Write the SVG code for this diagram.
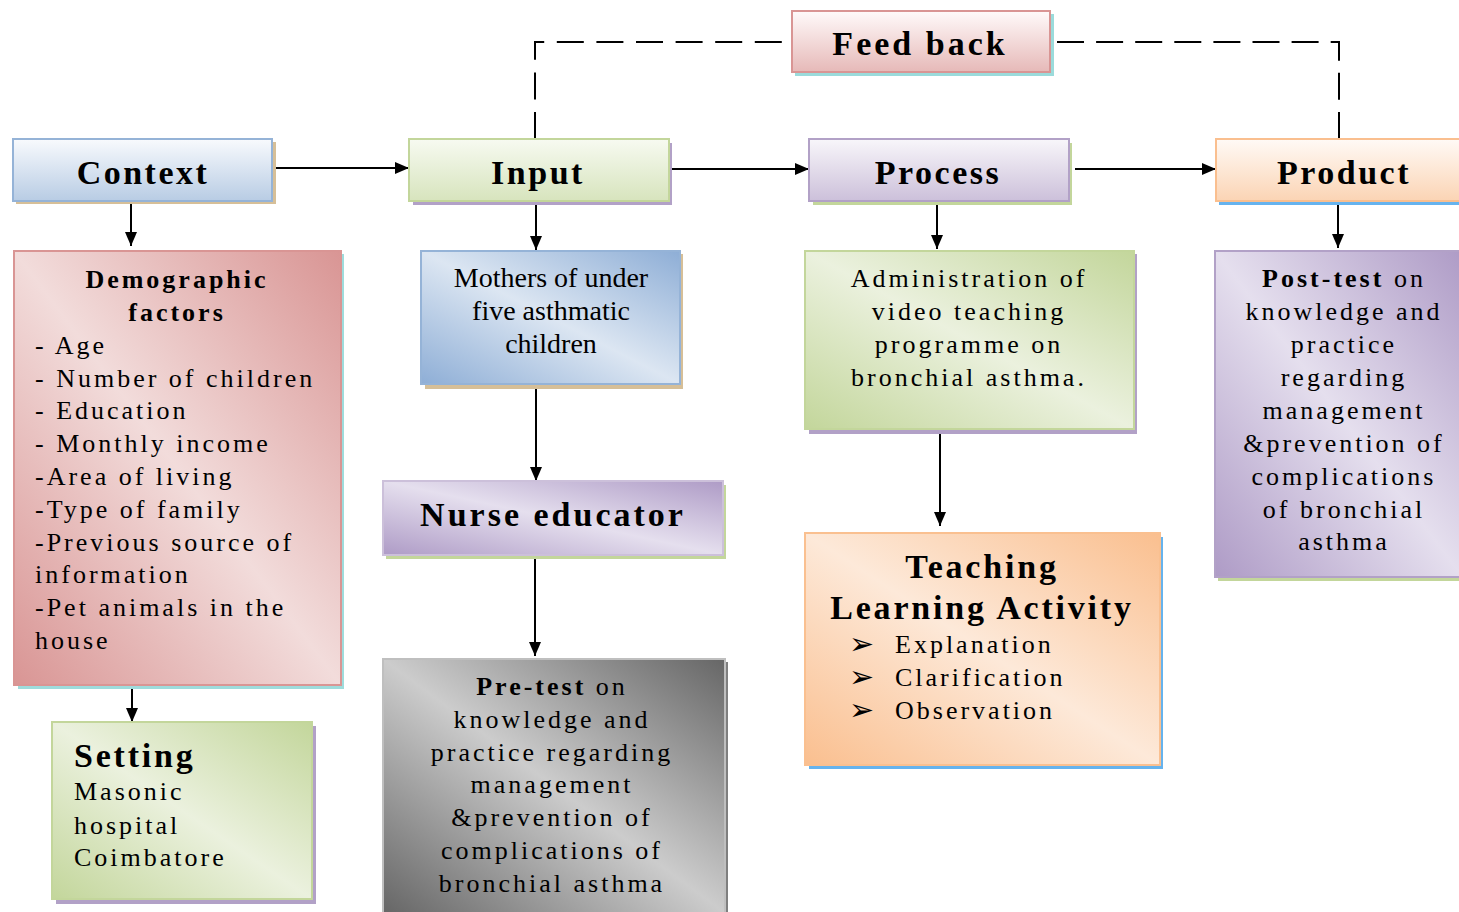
<svg xmlns="http://www.w3.org/2000/svg" width="1459" height="912" viewBox="0 0 1459 912">
  <defs>
    <!-- header bars: light top fading to tint -->
    <linearGradient id="gFeed" x1="0" y1="0" x2="0" y2="1"><stop offset="0" stop-color="#fffafa"/><stop offset="1" stop-color="#e6b9b8"/></linearGradient>
    <linearGradient id="gCtx" x1="0" y1="0" x2="0" y2="1"><stop offset="0" stop-color="#f8fafd"/><stop offset="1" stop-color="#b8cce4"/></linearGradient>
    <linearGradient id="gIn" x1="0" y1="0" x2="0" y2="1"><stop offset="0" stop-color="#f7faf1"/><stop offset="1" stop-color="#d7e4bd"/></linearGradient>
    <linearGradient id="gProc" x1="0" y1="0" x2="0" y2="1"><stop offset="0" stop-color="#f8f6fa"/><stop offset="1" stop-color="#ccc0da"/></linearGradient>
    <linearGradient id="gProd" x1="0" y1="0" x2="0" y2="1"><stop offset="0" stop-color="#fffaf6"/><stop offset="1" stop-color="#fbd4b4"/></linearGradient>
    <!-- content boxes: dark corners top-right / bottom-left, light diagonal -->
    <linearGradient id="gPink" x1="1" y1="0" x2="0" y2="1"><stop offset="0" stop-color="#d99594"/><stop offset="0.5" stop-color="#f2dcdb"/><stop offset="1" stop-color="#d99594"/></linearGradient>
    <linearGradient id="gBlue" x1="1" y1="0" x2="0" y2="1"><stop offset="0" stop-color="#8eaed6"/><stop offset="0.5" stop-color="#dce6f2"/><stop offset="1" stop-color="#8eaed6"/></linearGradient>
    <linearGradient id="gPurple" x1="1" y1="0" x2="0" y2="1"><stop offset="0" stop-color="#ae9bc6"/><stop offset="0.5" stop-color="#e5dfee"/><stop offset="1" stop-color="#ae9bc6"/></linearGradient>
    <linearGradient id="gGray" x1="1" y1="0" x2="0" y2="1"><stop offset="0" stop-color="#666666"/><stop offset="0.5" stop-color="#cccccc"/><stop offset="1" stop-color="#666666"/></linearGradient>
    <linearGradient id="gGreen" x1="1" y1="0" x2="0" y2="1"><stop offset="0" stop-color="#c3d69b"/><stop offset="0.5" stop-color="#ebf1de"/><stop offset="1" stop-color="#c3d69b"/></linearGradient>
    <linearGradient id="gOrange" x1="1" y1="0" x2="0" y2="1"><stop offset="0" stop-color="#fabf8f"/><stop offset="0.5" stop-color="#fde9d9"/><stop offset="1" stop-color="#fabf8f"/></linearGradient>
    <marker id="arrow" markerWidth="14" markerHeight="12" refX="14" refY="6" orient="auto" markerUnits="userSpaceOnUse">
      <path d="M0,0 L14,6 L0,12 Z" fill="#000"/>
    </marker>
  </defs>
  <style>
    text { font-family: "Liberation Serif", "Times New Roman", serif; fill: #000; }
    .hd { font-size: 34px; font-weight: bold; letter-spacing: 2.5px; text-anchor: middle; }
    .bd { font-size: 26px; letter-spacing: 3px; }
    .bb { font-size: 26px; letter-spacing: 3px; font-weight: bold; }
    .c { text-anchor: middle; }
    .bullet { font-family: "DejaVu Sans", sans-serif; font-size: 30px; }
    .box { stroke-width: 2; }
    .line { stroke: #000; stroke-width: 2; fill: none; }
    .dash { stroke: #000; stroke-width: 2; fill: none; }
  </style>

  <!-- connectors -->
  <g id="connectors">
    <path class="dash" d="M535,139 V42 H782" stroke-dasharray="27 12.6"/>
    <path class="dash" d="M1057,42 H1339 V139" stroke-dasharray="27 12.1"/>
    <line class="line" x1="270" y1="168" x2="409" y2="168" marker-end="url(#arrow)"/>
    <line class="line" x1="669" y1="169" x2="809" y2="169" marker-end="url(#arrow)"/>
    <line class="line" x1="1075" y1="169" x2="1216" y2="169" marker-end="url(#arrow)"/>
    <line class="line" x1="131" y1="201" x2="131" y2="246" marker-end="url(#arrow)"/>
    <line class="line" x1="536" y1="205" x2="536" y2="250" marker-end="url(#arrow)"/>
    <line class="line" x1="937" y1="205" x2="937" y2="249" marker-end="url(#arrow)"/>
    <line class="line" x1="1338" y1="202" x2="1338" y2="248" marker-end="url(#arrow)"/>
    <line class="line" x1="536" y1="385" x2="536" y2="481" marker-end="url(#arrow)"/>
    <line class="line" x1="535" y1="557" x2="535" y2="656" marker-end="url(#arrow)"/>
    <line class="line" x1="940" y1="427" x2="940" y2="526" marker-end="url(#arrow)"/>
    <line class="line" x1="132" y1="685" x2="132" y2="722" marker-end="url(#arrow)"/>
  </g>

  <g id="feedback">
    <rect x="795" y="14" width="259" height="62" fill="#9bdbdb"/>
    <rect class="box" x="792" y="11" width="258" height="61" fill="url(#gFeed)" stroke="#d99594"/>
    <text class="hd" x="920" y="55" style="letter-spacing:3px">Feed back</text>
  </g>

  <g id="context">
    <rect x="16" y="142" width="260" height="62" fill="#d6bf98"/>
    <rect class="box" x="13" y="139" width="259" height="62" fill="url(#gCtx)" stroke="#95b3d7"/>
    <text class="hd" x="143" y="184">Context</text>
  </g>

  <g id="input">
    <rect x="413" y="143" width="259" height="62" fill="#b2a1c7"/>
    <rect class="box" x="409" y="139" width="260" height="62" fill="url(#gIn)" stroke="#c3d69b"/>
    <text class="hd" x="538" y="184">Input</text>
  </g>

  <g id="process">
    <rect x="813" y="143" width="259" height="62" fill="#c3d69b"/>
    <rect class="box" x="809" y="139" width="260" height="62" fill="url(#gProc)" stroke="#b2a1c7"/>
    <text class="hd" x="938" y="184">Process</text>
  </g>

  <g id="product">
    <rect x="1219" y="143" width="245" height="62" fill="#66b3ee"/>
    <rect class="box" x="1216" y="139" width="248" height="62" fill="url(#gProd)" stroke="#fabf8f"/>
    <text class="hd" x="1344" y="184">Product</text>
  </g>

  <g id="demographic">
    <rect x="18" y="254" width="326" height="435" fill="#9edcdc"/>
    <rect class="box" x="14" y="251" width="327" height="434" fill="url(#gPink)" stroke="#d99594"/>
    <text class="bb c" x="177" y="288">Demographic</text>
    <text class="bb c" x="177" y="321">factors</text>
    <text class="bd" x="35" y="354">- Age</text>
    <text class="bd" x="35" y="387">- Number of children</text>
    <text class="bd" x="35" y="419">- Education</text>
    <text class="bd" x="35" y="452">- Monthly income</text>
    <text class="bd" x="35" y="485">-Area of living</text>
    <text class="bd" x="35" y="518">-Type of family</text>
    <text class="bd" x="35" y="551">-Previous source of</text>
    <text class="bd" x="35" y="583">information</text>
    <text class="bd" x="35" y="616">-Pet animals in the</text>
    <text class="bd" x="35" y="649">house</text>
  </g>

  <g id="setting">
    <rect x="56" y="726" width="260" height="178" fill="#b2a1c7"/>
    <rect class="box" x="52" y="722" width="260" height="177" fill="url(#gGreen)" stroke="#c3d69b"/>
    <text x="74" y="767" style="font-size:34px;font-weight:bold;letter-spacing:2.8px">Setting</text>
    <text class="bd" x="74" y="800">Masonic</text>
    <text class="bd" x="74" y="834">hospital</text>
    <text class="bd" x="74" y="866">Coimbatore</text>
  </g>

  <g id="mothers">
    <rect x="425" y="254" width="258" height="135" fill="#d6bf98"/>
    <rect class="box" x="421" y="251" width="259" height="133" fill="url(#gBlue)" stroke="#95b3d7"/>
    <text class="c" x="551" y="287" style="font-size:28px">Mothers of under</text>
    <text class="c" x="551" y="320" style="font-size:28px">five asthmatic</text>
    <text class="c" x="551" y="353" style="font-size:28px">children</text>
  </g>

  <g id="nurse-educator">
    <rect x="386" y="485" width="340" height="74" fill="#c3d69b"/>
    <rect class="box" x="383" y="481" width="340" height="74" fill="url(#gPurple)" stroke="#ccc0da"/>
    <text class="hd" x="553" y="526" style="letter-spacing:3px">Nurse educator</text>
  </g>

  <g id="pre-test">
    <rect x="386" y="662" width="342" height="254" fill="#7f7f7f"/>
    <rect class="box" x="383" y="659" width="342" height="254" fill="url(#gGray)" stroke="#bfbfbf"/>
    <text class="bd c" x="552" y="695"><tspan font-weight="bold">Pre-test</tspan> on</text>
    <text class="bd c" x="552" y="728">knowledge and</text>
    <text class="bd c" x="552" y="761">practice regarding</text>
    <text class="bd c" x="552" y="793">management</text>
    <text class="bd c" x="552" y="826">&amp;prevention of</text>
    <text class="bd c" x="552" y="859">complications of</text>
    <text class="bd c" x="552" y="892">bronchial asthma</text>
  </g>

  <g id="administration">
    <rect x="809" y="254" width="328" height="180" fill="#b2a1c7"/>
    <rect class="box" x="805" y="251" width="329" height="178" fill="url(#gGreen)" stroke="#c3d69b"/>
    <text class="bd c" x="969" y="287">Administration of</text>
    <text class="bd c" x="969" y="320">video teaching</text>
    <text class="bd c" x="969" y="353">programme on</text>
    <text class="bd c" x="969" y="386">bronchial asthma.</text>
  </g>

  <g id="teaching-learning">
    <rect x="809" y="537" width="354" height="232" fill="#66b3ee"/>
    <rect class="box" x="805" y="533" width="355" height="232" fill="url(#gOrange)" stroke="#fac090"/>
    <text class="hd" x="982" y="578" style="letter-spacing:2.8px">Teaching</text>
    <text class="hd" x="982" y="619" style="letter-spacing:2.8px">Learning Activity</text>
    <text class="bullet" x="849" y="654">➢</text>
    <text class="bd" x="895" y="653">Explanation</text>
    <text class="bullet" x="849" y="687">➢</text>
    <text class="bd" x="895" y="686">Clarification</text>
    <text class="bullet" x="849" y="720">➢</text>
    <text class="bd" x="895" y="719">Observation</text>
  </g>

  <g id="post-test">
    <rect x="1218" y="254" width="245" height="327" fill="#c3d69b"/>
    <rect class="box" x="1215" y="251" width="248" height="326" fill="url(#gPurple)" stroke="#b2a1c7"/>
    <text class="bd c" x="1344" y="287"><tspan font-weight="bold">Post-test</tspan> on</text>
    <text class="bd c" x="1344" y="320">knowledge and</text>
    <text class="bd c" x="1344" y="353">practice</text>
    <text class="bd c" x="1344" y="386">regarding</text>
    <text class="bd c" x="1344" y="419">management</text>
    <text class="bd c" x="1344" y="452">&amp;prevention of</text>
    <text class="bd c" x="1344" y="485">complications</text>
    <text class="bd c" x="1344" y="518">of bronchial</text>
    <text class="bd c" x="1344" y="550">asthma</text>
  </g>
</svg>
